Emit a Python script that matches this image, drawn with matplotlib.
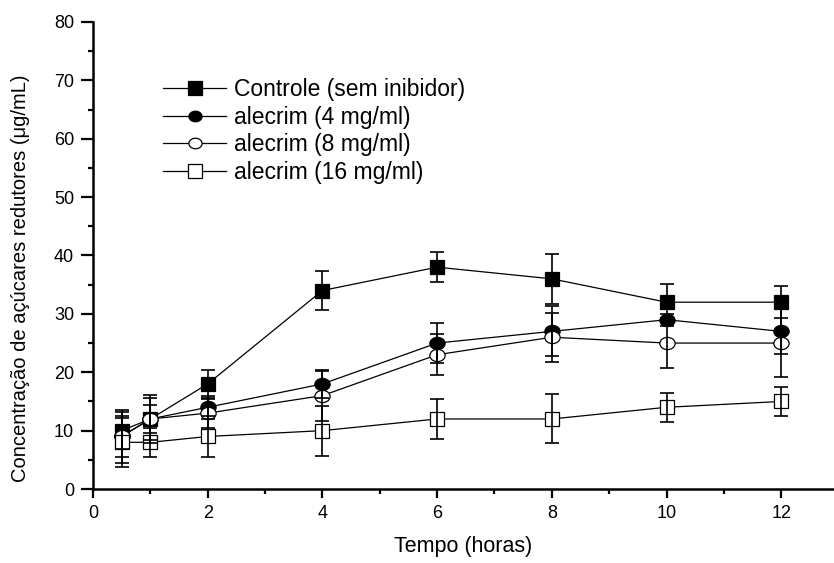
import matplotlib
matplotlib.use("Agg")
import matplotlib.pyplot as plt
from matplotlib.path import Path
from matplotlib.transforms import Affine2D
from matplotlib.ticker import MultipleLocator

plt.rcParams['font.family'] = ['Liberation Sans', 'DejaVu Sans']

# sampling times (h)
tempo = [0.5, 1, 2, 4, 6, 8, 10, 12]

# reducing sugars (ug/mL) and standard deviations
controle = [10, 12, 18, 34, 38, 36, 32, 32]
controle_err = [3.2, 2.4, 2.4, 3.3, 2.6, 4.3, 3.2, 2.7]
alecrim4 = [9, 12, 14, 18, 25, 27, 29, 27]
alecrim4_err = [3.5, 3.6, 2.0, 2.4, 3.4, 4.3, 1.0, 3.8]
alecrim8 = [9, 12, 13, 16, 23, 26, 25, 25]
alecrim8_err = [4.5, 4.1, 2.5, 4.3, 3.5, 4.2, 4.3, 5.8]
alecrim16 = [8, 8, 9, 10, 12, 12, 14, 15]
alecrim16_err = [4.2, 2.5, 3.5, 4.3, 3.5, 4.2, 2.5, 2.5]

labels = ['Controle (sem inibidor)', 'alecrim (4 mg/ml)',
          'alecrim (8 mg/ml)', 'alecrim (16 mg/ml)']

# slightly flattened circle, like the Origin symbols
ellipse = Path.unit_circle().transformed(Affine2D().scale(1.0, 0.8))

fig = plt.figure(figsize=(8.34, 5.63), dpi=100)
ax = fig.add_axes([0.1115, 0.1314, 0.8885, 0.8296])

series = [
    (controle, controle_err, 's', 'black', 9.5),
    (alecrim4, alecrim4_err, ellipse, 'black', 11),
    (alecrim8, alecrim8_err, ellipse, 'white', 11),
    (alecrim16, alecrim16_err, 's', 'white', 9.5),
]

handles = []
for i, (y, err, mk, fc, ms) in enumerate(series):
    line, = ax.plot(tempo, y, color='black', lw=0.9, marker=mk, ms=ms,
                    mfc=fc, mec='black', mew=0.9, zorder=3 + i)
    ax.errorbar(tempo, y, yerr=err, fmt='none', ecolor='black',
                elinewidth=1.2, capsize=5, capthick=1.2, zorder=10)
    handles.append(line)

ax.set_xlim(0, 12.92)
ax.set_ylim(0, 80)
ax.xaxis.set_major_locator(MultipleLocator(2))
ax.xaxis.set_minor_locator(MultipleLocator(1))
ax.yaxis.set_major_locator(MultipleLocator(10))
ax.yaxis.set_minor_locator(MultipleLocator(5))

for side in ('top', 'right'):
    ax.spines[side].set_visible(False)
for side in ('left', 'bottom'):
    ax.spines[side].set_linewidth(1.8)

ax.tick_params(which='major', direction='out', width=1.6, labelsize=13)
ax.tick_params(axis='x', which='major', length=6.5, pad=5)
ax.tick_params(axis='y', which='major', length=8.5, pad=5)
ax.tick_params(which='minor', direction='out', length=3.5, width=1.6)

ax.set_xlabel('Tempo (horas)', fontsize=15.5, labelpad=10)
ax.set_ylabel('Concentração de açúcares redutores (μg/mL)', fontsize=14.5)
ax.yaxis.set_label_coords(-0.085, 0.452)

leg = ax.legend(handles, labels, loc='upper left',
                bbox_to_anchor=(163 / 834, 1 - 78 / 563),
                bbox_transform=fig.transFigure, frameon=False,
                fontsize=16.5, handlelength=2.75, handletextpad=0.35,
                labelspacing=0.2, borderpad=0, borderaxespad=0)
for h in leg.legend_handles:
    h.set_markersize(9.5)

fig.savefig('out.png', dpi=100)
